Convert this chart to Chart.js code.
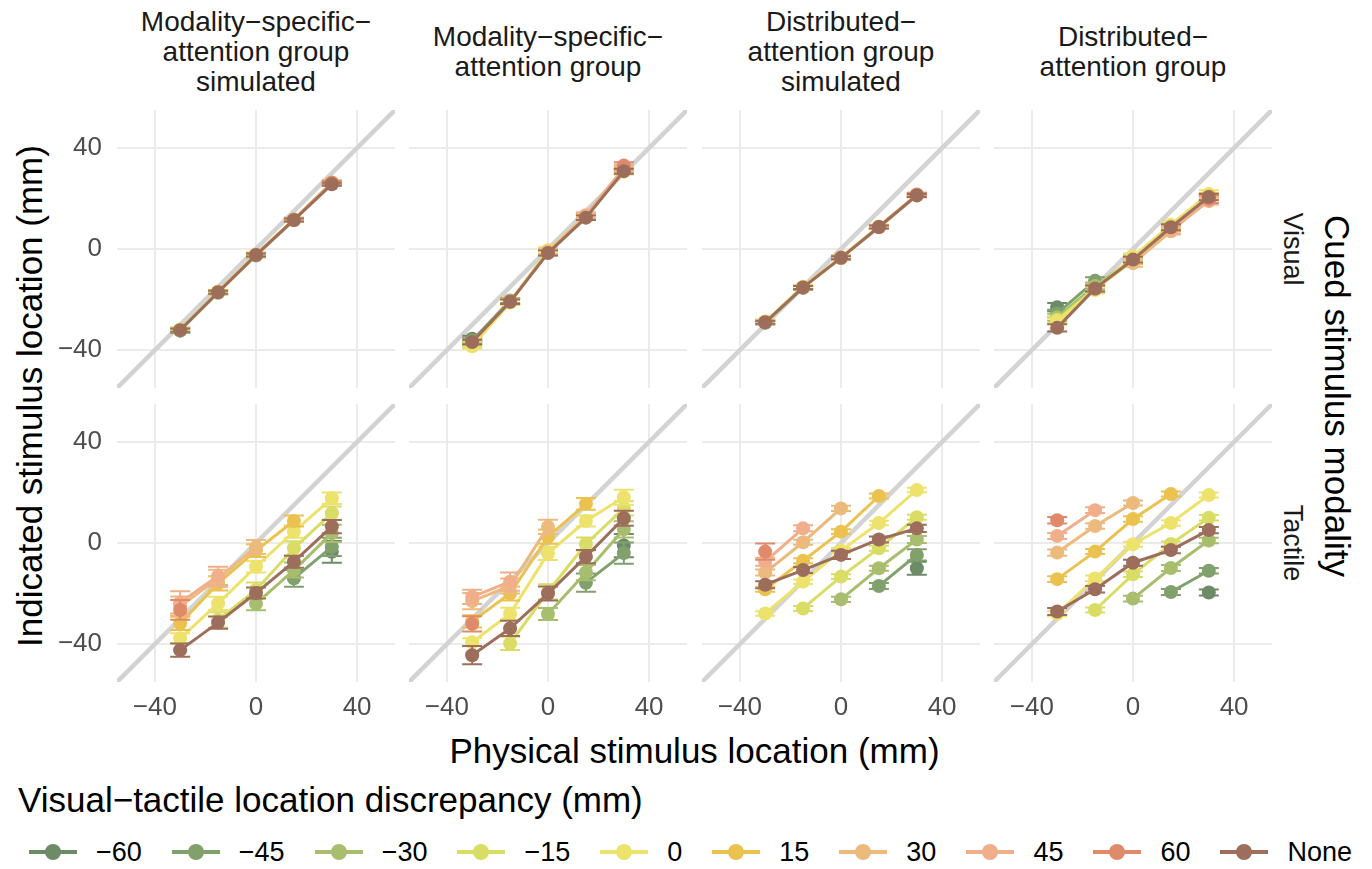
<!DOCTYPE html>
<html>
<head>
<meta charset="utf-8">
<title>Indicated vs physical stimulus location</title>
<script src="https://cdn.jsdelivr.net/npm/chart.js@4.4.1/dist/chart.umd.min.js"></script>
<style>
  body { margin: 0; background: #fff; font-family: "Liberation Sans", Arial, sans-serif; }
  #figure { position: relative; width: 1372px; height: 869px; overflow: hidden; }
  #figure canvas { position: absolute; }
  .strip { position: absolute; color: #1a1a1a; font-size: 28px; line-height: 30px; text-align: center;
           display: flex; flex-direction: column; justify-content: center; }
  .turned { position: absolute; white-space: nowrap; transform: translate(-50%, -50%) rotate(90deg); }
  .turned.up { transform: translate(-50%, -50%) rotate(-90deg); }
  .title { font-size: 35px; color: #000; }
  .side { font-size: 27px; color: #1a1a1a; }
  #xTitle { position: absolute; left: 0; width: 1389px; text-align: center; top: 731px; font-size: 35px; line-height: 40px; }
  #legendTitle { position: absolute; left: 18px; top: 780px; font-size: 35px; line-height: 40px; }
  #legend { position: absolute; left: 29px; top: 836px; height: 32px; display: flex; align-items: center; }
  .key { position: relative; width: 48px; height: 32px; display: inline-block; }
  .key .bar { position: absolute; left: 0; right: 0; top: 14px; height: 4px; }
  .key .dot { position: absolute; left: 16px; top: 8px; width: 16px; height: 16px; border-radius: 50%; }
  .keyLabel { font-size: 27px; margin-left: 19px; margin-right: 30px; color: #000; }
</style>
</head>
<body>
<div id="figure">
  <div id="xTitle">Physical stimulus location (mm)</div>
  <div id="legendTitle">Visual−tactile location discrepancy (mm)</div>
  <div id="legend"></div>
</div>
<script>
// physical stimulus positions and the discrepancy groups
const stimulusLocations = [-30, -15, 0, 15, 30];
const discrepancyLevels = ['−60', '−45', '−30', '−15', '0', '15', '30', '45', '60', 'None'];
const levelColours = ['#6E8B68', '#80A06C', '#A8BE6E', '#D9DD66', '#EDE26B',
                      '#EBC24F', '#ECBA7C', '#F0AE8A', '#E08A6C', '#9C6E5B'];
const axisTicks = [-40, 0, 40];
const axisMin = -55;
const axisMax = 55;

const groupTitles = [
  ['Modality−specific−', 'attention group', 'simulated'],
  ['Modality−specific−', 'attention group'],
  ['Distributed−', 'attention group', 'simulated'],
  ['Distributed−', 'attention group']
];
const modalityNames = ['Visual', 'Tactile'];

// mean indicated location per discrepancy (rows) and physical location (columns)
const visualModSim = [
  [-32.3, null, null, null, null],
  [-32.0, -17.3, null, null, null],
  [-32.1, -17.0, -2.6, null, null],
  [-31.9, -17.1, -2.3, 11.6, null],
  [-32.0, -17.2, -2.4, 11.5, 26.2],
  [null, -16.9, -2.2, 11.7, 26.3],
  [null, null, -2.5, 11.4, 26.0],
  [null, null, null, 11.6, 26.1],
  [null, null, null, null, 26.2],
  [-32.1, -17.1, -2.4, 11.5, 25.6]
];
const visualModSimSe = [
  [0.8, null, null, null, null],
  [0.8, 0.7, null, null, null],
  [0.7, 0.7, 0.8, null, null],
  [0.8, 0.7, 0.7, 0.7, null],
  [0.7, 0.8, 0.7, 0.8, 0.8],
  [null, 0.7, 0.8, 0.7, 0.8],
  [null, null, 0.7, 0.7, 0.8],
  [null, null, null, 0.8, 0.7],
  [null, null, null, null, 0.8],
  [0.6, 0.6, 0.6, 0.6, 0.6]
];

const visualModObs = [
  [-35.5, null, null, null, null],
  [-36.2, -20.4, null, null, null],
  [-37.0, -20.8, -1.4, null, null],
  [-37.8, -21.1, -0.9, 12.5, null],
  [-38.5, -21.2, -0.5, 12.9, 30.6],
  [null, -20.7, -1.3, 12.8, 31.2],
  [null, null, -1.0, 13.1, 31.5],
  [null, null, null, 13.4, 32.1],
  [null, null, null, null, 33.0],
  [-36.8, -20.9, -1.6, 12.4, 30.8]
];
const visualModObsSe = [
  [1.2, null, null, null, null],
  [1.1, 1.0, null, null, null],
  [1.0, 1.1, 1.2, null, null],
  [1.1, 1.0, 1.1, 1.0, null],
  [1.0, 1.0, 1.2, 1.0, 1.1],
  [null, 1.1, 1.0, 1.1, 1.0],
  [null, null, 1.1, 1.2, 1.1],
  [null, null, null, 1.0, 1.2],
  [null, null, null, null, 1.3],
  [0.9, 0.9, 1.0, 0.9, 1.0]
];

const visualDistSim = [
  [-29.2, null, null, null, null],
  [-29.0, -15.4, null, null, null],
  [-28.8, -15.1, -3.6, null, null],
  [-28.9, -15.0, -3.4, 8.7, null],
  [-28.7, -14.9, -3.3, 8.9, 21.5],
  [null, -15.2, -3.5, 8.8, 21.4],
  [null, null, -3.4, 8.6, 21.2],
  [null, null, null, 8.7, 21.3],
  [null, null, null, null, 21.6],
  [-29.0, -15.2, -3.5, 8.7, 21.2]
];
const visualDistSimSe = [
  [0.7, null, null, null, null],
  [0.7, 0.8, null, null, null],
  [0.8, 0.7, 0.7, null, null],
  [0.7, 0.7, 0.8, 0.7, null],
  [0.7, 0.8, 0.7, 0.7, 0.8],
  [null, 0.7, 0.7, 0.8, 0.7],
  [null, null, 0.8, 0.7, 0.7],
  [null, null, null, 0.7, 0.8],
  [null, null, null, null, 0.7],
  [0.6, 0.6, 0.6, 0.6, 0.6]
];

const visualDistObs = [
  [-23.0, null, null, null, null],
  [-25.5, -12.6, null, null, null],
  [-27.0, -14.6, -4.0, null, null],
  [-28.0, -15.6, -3.4, 9.2, null],
  [-28.6, -16.2, -3.0, 9.6, 21.8],
  [null, -15.8, -4.6, 8.2, 20.8],
  [null, null, -5.6, 7.0, 19.6],
  [null, null, null, 7.6, 19.0],
  [null, null, null, null, 19.8],
  [-31.2, -15.6, -4.2, 8.6, 20.6]
];
const visualDistObsSe = [
  [1.6, null, null, null, null],
  [1.5, 1.4, null, null, null],
  [1.4, 1.3, 1.2, null, null],
  [1.3, 1.2, 1.2, 1.3, null],
  [1.2, 1.3, 1.2, 1.2, 1.4],
  [null, 1.3, 1.3, 1.2, 1.3],
  [null, null, 1.4, 1.3, 1.4],
  [null, null, null, 1.5, 1.4],
  [null, null, null, null, 1.6],
  [1.4, 1.2, 1.1, 1.2, 1.3]
];

const tactileModSim = [
  [null, null, null, null, -3.5],
  [null, null, null, -14.0, -1.5],
  [null, null, -24.0, -10.7, 3.8],
  [null, -30.4, -18.6, -2.1, 11.8],
  [-37.7, -23.9, -9.4, 4.5, 17.7],
  [-31.8, -16.0, -3.0, 8.7, null],
  [-25.0, -14.0, -1.6, null, null],
  [-23.5, -13.0, null, null, null],
  [-26.5, null, null, null, null],
  [-42.4, -31.5, -19.8, -7.4, 6.5]
];
const tactileModSimSe = [
  [null, null, null, null, 4.3],
  [null, null, null, 3.3, 3.6],
  [null, null, 2.6, 3.0, 3.4],
  [null, 3.0, 3.0, 2.8, 2.6],
  [2.0, 2.6, 2.3, 2.4, 2.3],
  [2.6, 2.8, 2.5, 2.2, null],
  [3.8, 3.4, 2.8, null, null],
  [4.4, 3.6, null, null, null],
  [3.9, null, null, null, null],
  [2.6, 2.4, 2.2, 2.4, 2.6]
];

const tactileModObs = [
  [null, null, null, null, -1.0],
  [null, null, null, -15.7, -4.0],
  [null, null, -28.1, -11.7, 5.4],
  [null, -39.7, -19.3, -0.4, 13.7],
  [-39.3, -28.0, -4.1, 8.7, 18.1],
  [-31.0, -20.0, 2.5, 15.5, null],
  [-23.0, -17.0, 6.4, null, null],
  [-21.3, -15.3, null, null, null],
  [-32.0, null, null, null, null],
  [-44.4, -33.8, -20.0, -5.4, 9.8]
];
const tactileModObsSe = [
  [null, null, null, null, 4.6],
  [null, null, null, 3.6, 4.2],
  [null, null, 2.4, 3.0, 3.2],
  [null, 2.6, 3.0, 2.6, 2.8],
  [1.6, 2.4, 2.6, 2.2, 3.0],
  [2.4, 2.8, 2.8, 2.3, null],
  [3.2, 3.0, 2.8, null, null],
  [2.8, 3.6, null, null, null],
  [3.0, null, null, null, null],
  [3.6, 3.0, 2.8, 2.6, 3.0]
];

const tactileDistSim = [
  [null, null, null, null, -10.0],
  [null, null, null, -17.0, -4.7],
  [null, null, -22.3, -10.0, 1.4],
  [null, -25.9, -13.3, -2.1, 10.2],
  [-27.9, -15.3, -3.0, 7.9, 21.0],
  [-18.3, -7.0, 4.5, 18.6, null],
  [-11.7, 0.3, 13.7, null, null],
  [-7.4, 5.8, null, null, null],
  [-3.4, null, null, null, null],
  [-16.5, -10.7, -4.7, 1.4, 5.8]
];
const tactileDistSimSe = [
  [null, null, null, null, 2.6],
  [null, null, null, 1.2, 2.2],
  [null, null, 1.0, 1.0, 1.4],
  [null, 1.0, 0.9, 1.0, 1.0],
  [0.9, 0.9, 1.0, 0.9, 0.9],
  [1.0, 1.0, 0.9, 1.0, null],
  [1.2, 1.0, 1.0, null, null],
  [1.6, 1.2, null, null, null],
  [3.2, null, null, null, null],
  [1.4, 1.2, 1.6, 1.2, 1.4]
];

const tactileDistObs = [
  [null, null, null, null, -19.6],
  [null, null, null, -19.4, -11.0],
  [null, null, -22.0, -9.9, 1.0],
  [null, -26.5, -12.4, -0.4, 10.0],
  [-28.0, -14.0, -0.5, 7.9, 19.0],
  [-14.3, -3.4, 9.5, 19.4, null],
  [-3.8, 6.7, 15.8, null, null],
  [2.8, 13.0, null, null, null],
  [9.0, null, null, null, null],
  [-27.1, -18.3, -7.8, -2.8, 5.1]
];
const tactileDistObsSe = [
  [null, null, null, null, 1.2],
  [null, null, null, 1.2, 1.1],
  [null, null, 1.1, 1.2, 1.1],
  [null, 1.0, 1.1, 1.0, 1.1],
  [1.0, 1.1, 1.0, 1.1, 1.0],
  [1.1, 1.0, 1.1, 1.0, null],
  [1.2, 1.1, 1.0, null, null],
  [1.2, 1.1, null, null, null],
  [1.3, null, null, null, null],
  [1.4, 1.3, 1.2, 1.3, 1.2]
];

const panelMeans = [
  [visualModSim, visualModObs, visualDistSim, visualDistObs],
  [tactileModSim, tactileModObs, tactileDistSim, tactileDistObs]
];
const panelErrors = [
  [visualModSimSe, visualModObsSe, visualDistSimSe, visualDistObsSe],
  [tactileModSimSe, tactileModObsSe, tactileDistSimSe, tactileDistObsSe]
];

// layout of the 2 x 4 grid of panels
const panelLeft = [117, 409, 702, 994];
const panelTop = [110, 404];
const panelSize = 278;
const yTickRoom = 70;
const xTickRoom = 50;

Chart.defaults.font.family = '"Liberation Sans", Arial, sans-serif';

// vertical mean +/- se bars, drawn right after each series
const errorBars = {
  id: 'errorBars',
  afterDatasetDraw(chart, args) {
    const ds = chart.data.datasets[args.index];
    if (!ds.showErrors) return;
    const ctx = chart.ctx;
    const yScale = chart.scales.y;
    ctx.save();
    ctx.strokeStyle = ds.borderColor;
    ctx.lineWidth = 2;
    args.meta.data.forEach((pt, k) => {
      const raw = ds.data[k];
      const top = yScale.getPixelForValue(raw.y + raw.se);
      const bottom = yScale.getPixelForValue(raw.y - raw.se);
      ctx.beginPath();
      ctx.moveTo(pt.x, top);
      ctx.lineTo(pt.x, bottom);
      ctx.moveTo(pt.x - 10, top);
      ctx.lineTo(pt.x + 10, top);
      ctx.moveTo(pt.x - 10, bottom);
      ctx.lineTo(pt.x + 10, bottom);
      ctx.stroke();
    });
    ctx.restore();
  }
};

function axisOptions(axis, showTicks) {
  return {
    type: 'linear',
    min: axisMin,
    max: axisMax,
    afterBuildTicks: (scale) => { scale.ticks = axisTicks.map(v => ({ value: v })); },
    afterFit: (scale) => {
      // keep every panel the same size, whatever the tick labels need
      if (axis === 'x') scale.height = showTicks ? xTickRoom : 0;
      else scale.width = showTicks ? yTickRoom : 0;
      scale.paddingTop = 0;
      scale.paddingBottom = 0;
      scale.paddingLeft = 0;
      scale.paddingRight = 0;
    },
    grid: { color: '#ebebeb', lineWidth: 2, drawTicks: false },
    border: { display: false },
    ticks: {
      display: showTicks,
      color: '#4d4d4d',
      font: { size: 26 },
      padding: axis === 'x' ? 10 : 15,
      callback: (v) => String(v).replace('-', '−')
    }
  };
}

function buildPanel(row, col) {
  const means = panelMeans[row][col];
  const ses = panelErrors[row][col];
  const firstCol = col === 0;
  const lastRow = row === 1;

  const canvas = document.createElement('canvas');
  const w = panelSize + (firstCol ? yTickRoom : 0);
  const h = panelSize + (lastRow ? xTickRoom : 0);
  canvas.width = w;
  canvas.height = h;
  canvas.style.width = w + 'px';
  canvas.style.height = h + 'px';
  canvas.style.left = (panelLeft[col] - (firstCol ? yTickRoom : 0)) + 'px';
  canvas.style.top = panelTop[row] + 'px';
  document.getElementById('figure').appendChild(canvas);

  const datasets = [{
    label: 'identity',
    data: [{ x: axisMin, y: axisMin }, { x: axisMax, y: axisMax }],
    borderColor: '#d3d3d3',
    borderWidth: 4.5,
    pointRadius: 0,
    showErrors: false,
    order: 99
  }];

  discrepancyLevels.forEach((name, i) => {
    const points = stimulusLocations
      .map((x, j) => ({ x: x, y: means[i][j], se: ses[i][j] }))
      .filter(p => p.y !== null);
    datasets.push({
      label: name,
      data: points,
      borderColor: levelColours[i],
      backgroundColor: levelColours[i],
      pointBackgroundColor: levelColours[i],
      borderWidth: 3,
      pointRadius: 7,
      pointHoverRadius: 7,
      pointBorderWidth: 0,
      showErrors: true,
      order: discrepancyLevels.length - i
    });
  });

  new Chart(canvas.getContext('2d'), {
    type: 'line',
    data: { datasets: datasets },
    options: {
      responsive: false,
      animation: false,
      devicePixelRatio: 1,
      layout: { padding: 0, autoPadding: false },
      elements: { line: { tension: 0 } },
      scales: {
        x: axisOptions('x', lastRow),
        y: axisOptions('y', firstCol)
      },
      plugins: { legend: { display: false }, tooltip: { enabled: false } }
    },
    plugins: [errorBars]
  });
}

function addText(cls, text, cx, cy) {
  const el = document.createElement('div');
  el.className = cls;
  el.textContent = text;
  el.style.left = cx + 'px';
  el.style.top = cy + 'px';
  document.getElementById('figure').appendChild(el);
}

const figure = document.getElementById('figure');

// column headers
groupTitles.forEach((lines, col) => {
  const el = document.createElement('div');
  el.className = 'strip';
  el.style.left = panelLeft[col] + 'px';
  el.style.width = panelSize + 'px';
  el.style.top = '5px';
  el.style.height = '94px';
  el.innerHTML = lines.join('<br>');
  figure.appendChild(el);
});

// row strips and axis titles
modalityNames.forEach((name, row) => {
  addText('turned side', name, 1292, panelTop[row] + panelSize / 2);
});
addText('turned title', 'Cued stimulus modality', 1337, 396);
addText('turned up title', 'Indicated stimulus location (mm)', 30, 396);

for (let r = 0; r < 2; r++) {
  for (let c = 0; c < 4; c++) buildPanel(r, c);
}

// shared legend
const legend = document.getElementById('legend');
discrepancyLevels.forEach((name, i) => {
  const key = document.createElement('span');
  key.className = 'key';
  key.innerHTML = '<span class="bar"></span><span class="dot"></span>';
  key.querySelector('.bar').style.background = levelColours[i];
  key.querySelector('.dot').style.background = levelColours[i];
  const label = document.createElement('span');
  label.className = 'keyLabel';
  label.textContent = name;
  legend.appendChild(key);
  legend.appendChild(label);
});
</script>
</body>
</html>
